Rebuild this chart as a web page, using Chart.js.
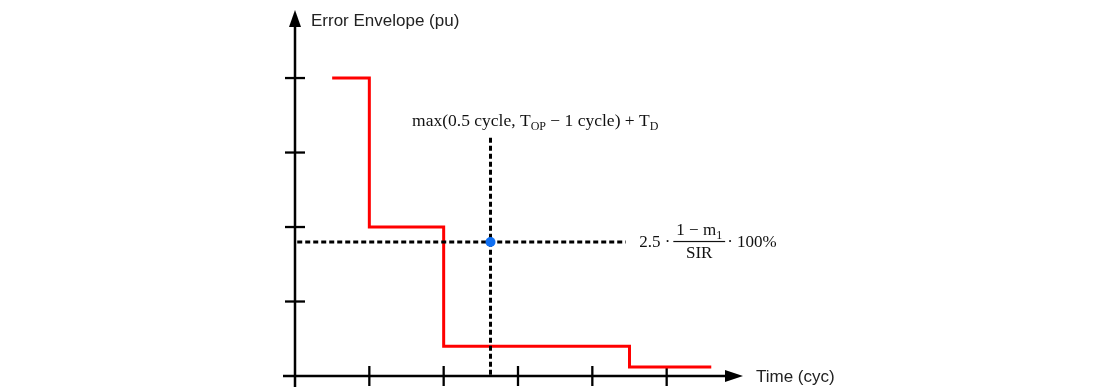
<!DOCTYPE html>
<html>
<head>
<meta charset="utf-8">
<script src="https://cdn.jsdelivr.net/npm/chart.js@4.4.1/dist/chart.umd.min.js"></script>
<style>
html,body{margin:0;padding:0;background:#fff;}
#wrap{width:1100px;height:392px;}
</style>
</head>
<body>
<div id="wrap"><canvas id="c" width="1100" height="392"></canvas></div>
<script>
// ---- data ----
const xTicks = [1, 2, 3, 4, 5];
const yTicks = [1, 2, 3, 4];
const envelopeX = [0.5, 1, 1, 2, 2, 4.5, 4.5, 5.6];
const envelopeY = [4, 4, 2, 2, 0.4, 0.4, 0.12, 0.12];
const opTime = 2.63;          // max(0.5 cycle, TOP - 1 cycle) + TD
const errLevel = 1.8;         // 2.5 * (1 - m1)/SIR * 100%
const hLineX = [0.03, 4.45];
const vLineY = [3.2, 0];
const xAxisTitle = 'Time (cyc)';
const yAxisTitle = 'Error Envelope (pu)';

const envelopeData = envelopeX.map((x, i) => ({x: x, y: envelopeY[i]}));
const hLineData = hLineX.map(x => ({x: x, y: errLevel}));
const vLineData = vLineY.map(y => ({x: opTime, y: y}));

function drawRich(ctx, x, y, parts, size) {
  let cx = x;
  parts.forEach(p => {
    if (p.sub) {
      ctx.font = Math.round(size * 0.68) + 'px "Liberation Serif"';
      ctx.fillText(p.t, cx, y + size * 0.22);
    } else {
      ctx.font = size + 'px "Liberation Serif"';
      ctx.fillText(p.t, cx, y);
    }
    cx += ctx.measureText(p.t).width;
  });
  return cx;
}
function richWidth(ctx, parts, size) {
  let w = 0;
  parts.forEach(p => {
    ctx.font = (p.sub ? Math.round(size * 0.68) : size) + 'px "Liberation Serif"';
    w += ctx.measureText(p.t).width;
  });
  return w;
}

const axesPlugin = {
  id: 'axesPlugin',
  beforeDatasetsDraw(chart) {
    const ctx = chart.ctx;
    const xs = chart.scales.x, ys = chart.scales.y;
    const x0 = xs.getPixelForValue(0), y0 = ys.getPixelForValue(0);
    const xEnd = xs.getPixelForValue(6) + 2, yEnd = ys.getPixelForValue(4.9) - 1;
    ctx.save();
    ctx.strokeStyle = '#000';
    ctx.fillStyle = '#000';
    ctx.lineWidth = 2.5;
    // y axis
    ctx.beginPath();
    ctx.moveTo(x0, y0 + 11);
    ctx.lineTo(x0, yEnd + 14);
    ctx.stroke();
    ctx.beginPath();
    ctx.moveTo(x0, yEnd);
    ctx.lineTo(x0 - 6, yEnd + 17);
    ctx.lineTo(x0 + 6, yEnd + 17);
    ctx.closePath();
    ctx.fill();
    // x axis
    ctx.beginPath();
    ctx.moveTo(x0 - 12, y0);
    ctx.lineTo(xEnd - 14, y0);
    ctx.stroke();
    ctx.beginPath();
    ctx.moveTo(xEnd, y0);
    ctx.lineTo(xEnd - 18, y0 - 6);
    ctx.lineTo(xEnd - 18, y0 + 6);
    ctx.closePath();
    ctx.fill();
    // ticks
    ctx.lineWidth = 2.3;
    xTicks.forEach(v => {
      const px = xs.getPixelForValue(v);
      ctx.beginPath();
      ctx.moveTo(px, y0 - 10);
      ctx.lineTo(px, y0 + 10);
      ctx.stroke();
    });
    yTicks.forEach(v => {
      const py = ys.getPixelForValue(v);
      ctx.beginPath();
      ctx.moveTo(x0 - 10, py);
      ctx.lineTo(x0 + 10, py);
      ctx.stroke();
    });
    // axis titles
    ctx.fillStyle = '#222';
    ctx.font = '17px "Liberation Sans"';
    ctx.textBaseline = 'middle';
    ctx.textAlign = 'left';
    ctx.fillText(yAxisTitle, x0 + 16, yEnd + 11);
    ctx.fillText(xAxisTitle, xEnd + 13, y0 + 1);
    ctx.restore();
  },
  afterDatasetsDraw(chart) {
    const ctx = chart.ctx;
    const xs = chart.scales.x, ys = chart.scales.y;
    ctx.save();
    ctx.fillStyle = '#111';
    ctx.textBaseline = 'alphabetic';
    ctx.textAlign = 'left';
    const size = 17.5;
    // formula above the vertical line
    const f1 = [
      {t: 'max(0.5 cycle, T'}, {t: 'OP', sub: true},
      {t: ' \u2212 1 cycle) + T'}, {t: 'D', sub: true}
    ];
    drawRich(ctx, xs.getPixelForValue(1.575), ys.getPixelForValue(3.35), f1, size);
    // fraction formula
    const fs = 17;
    const bx = xs.getPixelForValue(4.63);
    const by = ys.getPixelForValue(errLevel) + 5;
    let cx = drawRich(ctx, bx, by, [{t: '2.5 \u00B7'}], fs) + 3;
    const num = [{t: '1 \u2212 m'}, {t: '1', sub: true}];
    const den = [{t: 'SIR'}];
    const nw = richWidth(ctx, num, fs), dw = richWidth(ctx, den, fs);
    const fw = Math.max(nw, dw) + 6;
    drawRich(ctx, cx + (fw - nw) / 2, by - 12, num, fs);
    drawRich(ctx, cx + (fw - dw) / 2, by + 11, den, fs);
    ctx.fillRect(cx, by - 6, fw, 1.2);
    cx += fw + 2;
    drawRich(ctx, cx, by, [{t: '\u00B7 100%'}], fs);
    ctx.restore();
  }
};

new Chart(document.getElementById('c'), {
  type: 'scatter',
  data: {
    datasets: [
      {
        label: 'Error envelope',
        data: envelopeData,
        showLine: true,
        borderColor: '#ff0000',
        borderWidth: 3,
        pointRadius: 0,
        fill: false,
        order: 3
      },
      {
        label: 'Error level',
        data: hLineData,
        showLine: true,
        borderColor: '#000',
        borderWidth: 3,
        borderDash: [5, 3],
        pointRadius: 0,
        order: 2
      },
      {
        label: 'Operating time',
        data: vLineData,
        showLine: true,
        borderColor: '#000',
        borderWidth: 3,
        borderDash: [5, 3],
        pointRadius: 0,
        order: 2
      },
      {
        label: 'Point',
        data: [{x: opTime, y: errLevel}],
        pointRadius: 5,
        pointBackgroundColor: '#0f6ff2',
        pointBorderWidth: 0,
        order: 1
      }
    ]
  },
  options: {
    responsive: false,
    animation: false,
    events: [],
    layout: {padding: {left: 295, right: 359, top: 11, bottom: 16}},
    plugins: {legend: {display: false}, tooltip: {enabled: false}},
    scales: {
      x: {type: 'linear', min: 0, max: 6, display: false},
      y: {type: 'linear', min: 0, max: 4.9, display: false}
    }
  },
  plugins: [axesPlugin]
});
</script>
</body>
</html>
